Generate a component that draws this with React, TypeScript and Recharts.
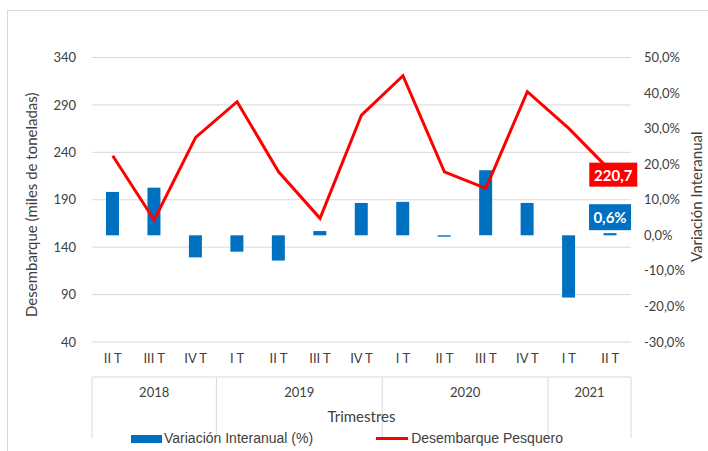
import React from "react";
import { Bar, CartesianGrid, ComposedChart, LabelList, Line, XAxis, YAxis } from "recharts";

const quarters = ["II T", "III T", "IV T", "I T", "II T", "III T", "IV T", "I T", "II T", "III T", "IV T", "I T", "II T"];
const years = ["2018", "2018", "2018", "2019", "2019", "2019", "2019", "2020", "2020", "2020", "2020", "2021", "2021"];
// desembarque pesquero (miles de toneladas)
const landings = [236.4, 168.6, 255.8, 293.4, 219.5, 170.4, 279.3, 320.8, 219.5, 202, 304, 265.3, 220.7];
// variación interanual (%)
const yoy = [12.2, 13.4, -6.2, -4.6, -7.1, 1.2, 9.1, 9.4, -0.4, 18.3, 9.1, -17.5, 0.6];

const leftTicks = [40, 90, 140, 190, 240, 290, 340];
const rightTicks = [-30, -20, -10, 0, 10, 20, 30, 40, 50];
const yearLabels = ["2018", "2019", "2020", "2021"];
const yearCenters = [1, 4.5, 8.5, 11.5];
const yearBounds = [-0.5, 2.5, 6.5, 10.5, 12.5];

const BLUE = "#0070C0";
const RED = "#FF0000";
const GRID = "#D9D9D9";
const TEXT = "#404040";
const FONT = "Lato, 'Open Sans', sans-serif";

const data = quarters.map((q, i) => ({
  id: `${years[i]} ${q}`,
  pos: i,
  landings: landings[i],
  yoy: yoy[i],
}));

const pct = (v: number) => `${v.toFixed(1).replace(".", ",")}%`;
const dec = (v: number) => v.toFixed(1).replace(".", ",");

const tickStyle = { fill: TEXT, fontSize: 13, fontFamily: FONT };

function LastLineLabel(props: any) {
  const { x, y, value, index } = props;
  if (index !== data.length - 1) return null;
  return (
    <g>
      <rect x={x - 21} y={y - 8} width={48} height={24} fill={RED} />
      <text x={x + 3} y={y + 4} textAnchor="middle" dominantBaseline="central" fill="#fff" fontSize={15} fontWeight={700} fontFamily={FONT}>
        {dec(value)}
      </text>
    </g>
  );
}

function LastBarLabel(props: any) {
  const { x, y, width, value, index } = props;
  if (index !== data.length - 1) return null;
  const cx = x + width / 2;
  return (
    <g>
      <rect x={cx - 21} y={y - 29} width={42} height={26} fill={BLUE} />
      <text x={cx} y={y - 16} textAnchor="middle" dominantBaseline="central" fill="#fff" fontSize={15} fontWeight={700} fontFamily={FONT}>
        {pct(value)}
      </text>
    </g>
  );
}

function AxisTitle({ viewBox, value, dx, dy }: any) {
  const cx = viewBox.x + dx;
  const cy = viewBox.y + viewBox.height / 2 + dy;
  return (
    <text x={cx} y={cy} transform={`rotate(-90 ${cx} ${cy})`} textAnchor="middle" dominantBaseline="central" fill={TEXT} fontSize={15} fontFamily={FONT}>
      {value}
    </text>
  );
}

export default function App() {
  return (
    <div style={{ position: "absolute", left: 0, top: 0, width: 708, height: 451, background: "#fff" }}>
      <div style={{ position: "absolute", left: 7, top: 10, width: 720, height: 460, border: `1px solid ${GRID}` }} />
      <div style={{ position: "absolute", left: 0, top: 0 }}>
        <ComposedChart width={708} height={451} data={data} margin={{ top: 57.5, right: 0, bottom: 43, left: 0 }}>
          <CartesianGrid yAxisId="left" xAxisId="q" vertical={false} stroke={GRID} />
          <XAxis
            xAxisId="sep"
            type="number"
            dataKey="pos"
            domain={[-0.5, 12.5]}
            allowDataOverflow
            ticks={yearBounds}
            interval={0}
            height={1}
            tickSize={61}
            tickFormatter={() => ""}
            stroke={GRID}
            axisLine={{ stroke: GRID }}
            tickLine={{ stroke: GRID }}
          />
          <XAxis
            xAxisId="q"
            dataKey="id"
            height={35}
            interval={0}
            tickSize={0}
            tickMargin={12}
            axisLine={false}
            tickLine={false}
            tick={tickStyle}
            tickFormatter={(v: string) => v.split(" ").slice(1).join(" ")}
          />
          <XAxis
            xAxisId="year"
            type="number"
            dataKey="pos"
            domain={[-0.5, 12.5]}
            allowDataOverflow
            ticks={yearCenters}
            interval={0}
            height={30}
            tickSize={0}
            tickMargin={10}
            axisLine={false}
            tickLine={false}
            tick={tickStyle}
            tickFormatter={(v: number) => yearLabels[yearCenters.indexOf(v)]}
            label={{ value: "Trimestres", position: "bottom", offset: 3, fill: TEXT, fontSize: 15, fontFamily: FONT }}
          />
          <YAxis
            yAxisId="left"
            orientation="left"
            width={92}
            domain={[40, 340]}
            ticks={leftTicks}
            interval={0}
            axisLine={false}
            tickLine={false}
            tickSize={0}
            tickMargin={16}
            tick={tickStyle}
            label={<AxisTitle value="Desembarque (miles de toneladas)" dx={31} dy={5} />}
          />
          <YAxis
            yAxisId="right"
            orientation="right"
            width={77}
            domain={[-30, 50]}
            ticks={rightTicks}
            interval={0}
            axisLine={false}
            tickLine={false}
            tickSize={0}
            tickMargin={13}
            tick={tickStyle}
            tickFormatter={pct}
            label={<AxisTitle value="Variación Interanual" dx={65} dy={-3} />}
          />
          <Bar xAxisId="q" yAxisId="right" dataKey="yoy" fill={BLUE} barSize={13} isAnimationActive={false}>
            <LabelList dataKey="yoy" content={<LastBarLabel />} />
          </Bar>
          <Line
            xAxisId="q"
            yAxisId="left"
            dataKey="landings"
            type="linear"
            stroke={RED}
            strokeWidth={3}
            dot={false}
            isAnimationActive={false}
          >
            <LabelList dataKey="landings" content={<LastLineLabel />} />
          </Line>
        </ComposedChart>
      </div>
      <div
        style={{
          position: "absolute",
          top: 430,
          left: 131,
          display: "flex",
          alignItems: "center",
          fontFamily: "'Liberation Sans', Arial, sans-serif",
          fontSize: 14,
          color: TEXT,
          lineHeight: "17px",
        }}
      >
        <span style={{ display: "inline-block", width: 31, height: 8, background: BLUE, marginRight: 2 }} />
        <span>Variación Interanual (%)</span>
        <span style={{ display: "inline-block", width: 32, height: 3, background: RED, marginLeft: 63, marginRight: 3 }} />
        <span>Desembarque Pesquero</span>
      </div>
    </div>
  );
}
